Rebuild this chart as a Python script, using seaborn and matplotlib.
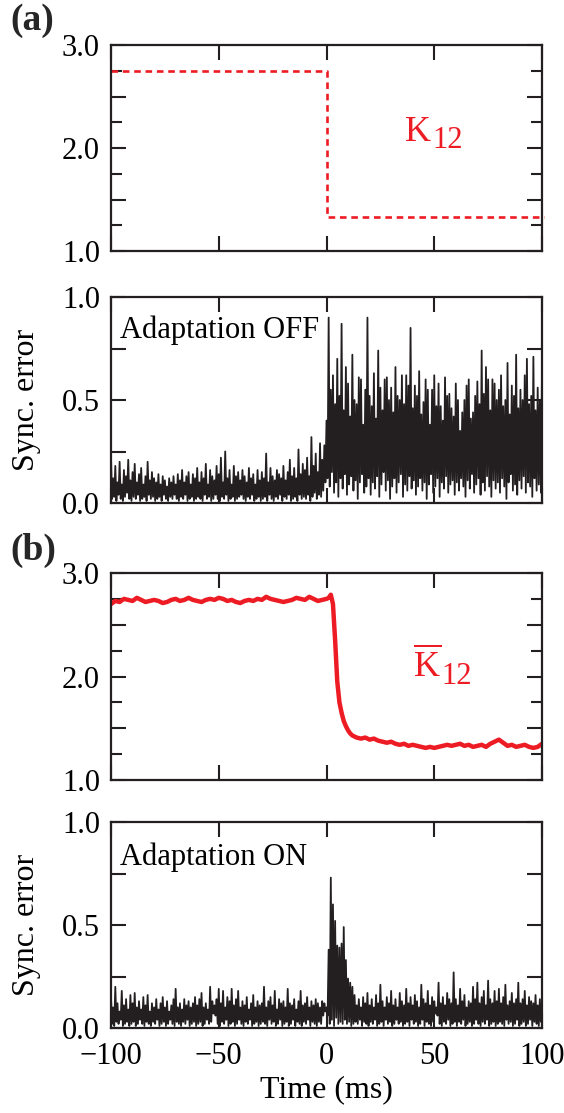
import numpy as np
import pandas as pd
import matplotlib
matplotlib.use("Agg")
import matplotlib.pyplot as plt
from matplotlib.ticker import MultipleLocator, FuncFormatter
import seaborn as sns

# ---------------- data ----------------
# (a) applied coupling strength K12 (step change at t = 0)
k_step_time = [-100, 0, 0, 101]
k_step_value = [2.75, 2.75, 1.33, 1.33]

# sync error: local maxima sampled at integer ms, local minima half a ms later
peak_time = list(range(-100, 101))
trough_time = [t + 0.5 for t in range(-100, 100)]

# (a) sync error, adaptation OFF
off_peaks = [
    0.22, 0.12, 0.18, 0.10, 0.20, 0.09, 0.16, 0.13, 0.21, 0.11,
    0.15, 0.19, 0.10, 0.14, 0.17, 0.09, 0.13, 0.20, 0.11, 0.15,
    0.12, 0.10, 0.14, 0.09, 0.13, 0.11, 0.08, 0.12, 0.10, 0.13,
    0.09, 0.14, 0.11, 0.16, 0.10, 0.13, 0.15, 0.09, 0.14, 0.12,
    0.17, 0.10, 0.15, 0.12, 0.19, 0.09, 0.16, 0.13, 0.11, 0.18,
    0.14, 0.22, 0.10, 0.25, 0.12, 0.16, 0.09, 0.18, 0.13, 0.15,
    0.11, 0.16, 0.13, 0.10, 0.17, 0.12, 0.14, 0.09, 0.16, 0.11,
    0.15, 0.12, 0.24, 0.10, 0.17, 0.13, 0.11, 0.16, 0.14, 0.12,
    0.18, 0.11, 0.15, 0.21, 0.13, 0.17, 0.12, 0.26, 0.14, 0.19,
    0.16, 0.22, 0.13, 0.32, 0.18, 0.24, 0.15, 0.29, 0.21, 0.28,
    0.40, 0.90, 0.55, 0.62, 0.48, 0.70, 0.52, 0.87, 0.45, 0.66,
    0.58, 0.42, 0.72, 0.50, 0.48, 0.61, 0.60, 0.38, 0.55, 0.90,
    0.52, 0.47, 0.63, 0.41, 0.74, 0.56, 0.45, 0.60, 0.61, 0.50,
    0.56, 0.44, 0.66, 0.52, 0.50, 0.62, 0.48, 0.62, 0.57, 0.85,
    0.46, 0.57, 0.52, 0.64, 0.43, 0.49, 0.60, 0.55, 0.38, 0.55,
    0.62, 0.47, 0.58, 0.47, 0.40, 0.61, 0.52, 0.53, 0.46, 0.42,
    0.58, 0.50, 0.35, 0.44, 0.50, 0.57, 0.60, 0.41, 0.44, 0.52,
    0.59, 0.48, 0.74, 0.53, 0.66, 0.60, 0.45, 0.60, 0.58, 0.50,
    0.55, 0.62, 0.47, 0.50, 0.68, 0.43, 0.57, 0.52, 0.72, 0.46,
    0.55, 0.50, 0.62, 0.70, 0.48, 0.52, 0.71, 0.45, 0.56, 0.50,
    0.64,
]
off_troughs = [
    0.02, 0.03, 0.01, 0.04, 0.02, 0.01, 0.03, 0.05, 0.02, 0.01,
    0.03, 0.02, 0.04, 0.01, 0.02, 0.03, 0.01, 0.04, 0.02, 0.03,
    0.01, 0.02, 0.03, 0.01, 0.04, 0.02, 0.01, 0.03, 0.02, 0.04,
    0.02, 0.01, 0.03, 0.02, 0.04, 0.01, 0.02, 0.03, 0.01, 0.02,
    0.03, 0.02, 0.01, 0.04, 0.02, 0.03, 0.01, 0.02, 0.04, 0.02,
    0.01, 0.03, 0.02, 0.04, 0.01, 0.02, 0.03, 0.01, 0.02, 0.03,
    0.04, 0.02, 0.01, 0.03, 0.02, 0.04, 0.01, 0.02, 0.03, 0.01,
    0.02, 0.03, 0.01, 0.04, 0.02, 0.01, 0.03, 0.02, 0.04, 0.01,
    0.03, 0.02, 0.04, 0.01, 0.02, 0.03, 0.01, 0.04, 0.02, 0.03,
    0.02, 0.04, 0.01, 0.03, 0.05, 0.02, 0.04, 0.03, 0.06, 0.10,
    0.12, 0.08, 0.15, 0.05, 0.10, 0.03, 0.12, 0.07, 0.14, 0.04,
    0.09, 0.13, 0.06, 0.11, 0.02, 0.10, 0.14, 0.05, 0.08, 0.12,
    0.04, 0.10, 0.07, 0.13, 0.03, 0.09, 0.15, 0.06, 0.11, 0.02,
    0.08, 0.12, 0.05, 0.10, 0.14, 0.03, 0.09, 0.06, 0.13, 0.07,
    0.11, 0.04, 0.08, 0.12, 0.06, 0.10, 0.02, 0.09, 0.14, 0.05,
    0.08, 0.12, 0.03, 0.10, 0.07, 0.13, 0.05, 0.09, 0.11, 0.04,
    0.10, 0.06, 0.12, 0.08, 0.03, 0.11, 0.07, 0.14, 0.05, 0.09,
    0.12, 0.04, 0.10, 0.06, 0.13, 0.08, 0.03, 0.11, 0.07, 0.10,
    0.05, 0.12, 0.08, 0.02, 0.10, 0.14, 0.06, 0.09, 0.04, 0.11,
    0.07, 0.13, 0.05, 0.10, 0.08, 0.03, 0.12, 0.06, 0.09, 0.05,
]

# (b) adaptive coupling strength K12-bar
kbar_time = ([-100 + 2 * i for i in range(50)]
             + [0, 1, 2, 3, 4, 5, 6, 7, 8, 9, 10, 11, 12]
             + [14 + 2 * i for i in range(44)])
kbar_value = [
    2.70, 2.73, 2.72, 2.75, 2.74, 2.73, 2.76, 2.74, 2.72, 2.73,
    2.74, 2.73, 2.71, 2.72, 2.74, 2.75, 2.73, 2.74, 2.76, 2.74,
    2.73, 2.72, 2.74, 2.75, 2.74, 2.76, 2.75, 2.73, 2.74, 2.72,
    2.71, 2.73, 2.74, 2.73, 2.75, 2.74, 2.77, 2.75, 2.74, 2.73,
    2.72, 2.73, 2.74, 2.76, 2.75, 2.74, 2.77, 2.75, 2.73, 2.74,
    2.75, 2.76, 2.79, 2.70, 2.35, 1.95, 1.75, 1.65, 1.57, 1.52, 1.48, 1.45, 1.43,
    1.41, 1.40, 1.41, 1.39, 1.40, 1.38, 1.37, 1.36, 1.37, 1.35,
    1.34, 1.35, 1.33, 1.34, 1.33, 1.32, 1.31, 1.32, 1.31, 1.32,
    1.33, 1.34, 1.33, 1.34, 1.35, 1.33, 1.34, 1.32, 1.33, 1.34,
    1.32, 1.35, 1.37, 1.39, 1.36, 1.33, 1.34, 1.32, 1.33, 1.34,
    1.32, 1.31, 1.32, 1.35,
]

# (b) sync error, adaptation ON
on_peaks = [
    0.15, 0.10, 0.20, 0.12, 0.08, 0.18, 0.11, 0.14, 0.09, 0.16,
    0.12, 0.17, 0.10, 0.13, 0.09, 0.15, 0.11, 0.16, 0.08, 0.12,
    0.10, 0.14, 0.09, 0.12, 0.15, 0.10, 0.13, 0.08, 0.11, 0.14,
    0.19, 0.10, 0.12, 0.09, 0.14, 0.11, 0.13, 0.10, 0.12, 0.15,
    0.11, 0.14, 0.17, 0.10, 0.12, 0.09, 0.20, 0.13, 0.11, 0.14,
    0.19, 0.12, 0.18, 0.10, 0.15, 0.13, 0.19, 0.11, 0.14, 0.18,
    0.10, 0.13, 0.11, 0.15, 0.09, 0.12, 0.16, 0.10, 0.13, 0.11,
    0.12, 0.20, 0.10, 0.13, 0.15, 0.11, 0.18, 0.09, 0.14, 0.12,
    0.13, 0.10, 0.19, 0.12, 0.11, 0.14, 0.09, 0.13, 0.18, 0.11,
    0.12, 0.15, 0.10, 0.13, 0.11, 0.14, 0.12, 0.10, 0.13, 0.12,
    0.10, 0.38, 0.73, 0.60, 0.52, 0.40, 0.39, 0.41, 0.49, 0.33,
    0.24, 0.22, 0.20, 0.16, 0.11, 0.14, 0.10, 0.15, 0.12, 0.17,
    0.11, 0.14, 0.10, 0.16, 0.12, 0.21, 0.13, 0.10, 0.15, 0.12,
    0.18, 0.11, 0.14, 0.10, 0.17, 0.13, 0.11, 0.19, 0.12, 0.15,
    0.11, 0.16, 0.13, 0.10, 0.21, 0.14, 0.12, 0.18, 0.11, 0.15,
    0.13, 0.10, 0.22, 0.12, 0.15, 0.11, 0.17, 0.14, 0.12, 0.27,
    0.14, 0.11, 0.19, 0.13, 0.16, 0.10, 0.13, 0.12, 0.20, 0.14,
    0.22, 0.12, 0.15, 0.18, 0.11, 0.23, 0.14, 0.12, 0.18, 0.13,
    0.19, 0.12, 0.15, 0.21, 0.11, 0.13, 0.17, 0.12, 0.14, 0.22,
    0.12, 0.14, 0.18, 0.11, 0.15, 0.13, 0.12, 0.16, 0.11, 0.14,
    0.10,
]
on_troughs = [
    0.02, 0.01, 0.03, 0.02, 0.04, 0.01, 0.02, 0.03, 0.01, 0.02,
    0.03, 0.01, 0.02, 0.04, 0.02, 0.01, 0.03, 0.02, 0.01, 0.03,
    0.02, 0.04, 0.01, 0.02, 0.03, 0.01, 0.02, 0.04, 0.02, 0.01,
    0.03, 0.02, 0.01, 0.03, 0.02, 0.04, 0.01, 0.02, 0.03, 0.01,
    0.02, 0.03, 0.01, 0.02, 0.04, 0.02, 0.03, 0.07, 0.06, 0.02,
    0.01, 0.03, 0.02, 0.04, 0.01, 0.02, 0.03, 0.01, 0.02, 0.04,
    0.02, 0.01, 0.03, 0.02, 0.04, 0.01, 0.02, 0.03, 0.01, 0.02,
    0.03, 0.02, 0.01, 0.04, 0.02, 0.03, 0.01, 0.02, 0.04, 0.01,
    0.02, 0.03, 0.01, 0.02, 0.04, 0.01, 0.03, 0.02, 0.01, 0.03,
    0.02, 0.04, 0.01, 0.03, 0.02, 0.01, 0.03, 0.02, 0.06, 0.08,
    0.06, 0.02, 0.04, 0.01, 0.05, 0.02, 0.03, 0.02, 0.04, 0.02,
    0.03, 0.01, 0.02, 0.03, 0.02, 0.04, 0.01, 0.03, 0.02, 0.01,
    0.03, 0.02, 0.04, 0.01, 0.02, 0.03, 0.01, 0.04, 0.02, 0.03,
    0.01, 0.02, 0.04, 0.02, 0.03, 0.01, 0.02, 0.03, 0.01, 0.04,
    0.02, 0.03, 0.01, 0.02, 0.04, 0.01, 0.03, 0.02, 0.01, 0.03,
    0.07, 0.06, 0.02, 0.01, 0.03, 0.02, 0.04, 0.01, 0.02, 0.03,
    0.01, 0.03, 0.02, 0.04, 0.01, 0.02, 0.03, 0.01, 0.02, 0.04,
    0.02, 0.01, 0.03, 0.02, 0.04, 0.01, 0.02, 0.03, 0.01, 0.02,
    0.03, 0.02, 0.01, 0.04, 0.02, 0.03, 0.01, 0.02, 0.04, 0.01,
    0.02, 0.03, 0.01, 0.02, 0.04, 0.01, 0.03, 0.02, 0.01, 0.03,
]

x_ticks = [-100, -50, 0, 50, 100]


def interleave(peaks, troughs):
    t, v = [], []
    for i in range(len(troughs)):
        t += [peak_time[i], trough_time[i]]
        v += [peaks[i], troughs[i]]
    t.append(peak_time[-1])
    v.append(peaks[-1])
    return pd.DataFrame({"t": t, "e": v})


# ---------------- style ----------------
sns.set_theme(style="ticks")
plt.rcParams["font.family"] = ["Liberation Serif", "DejaVu Serif"]
plt.rcParams["mathtext.fontset"] = "custom"
plt.rcParams["mathtext.rm"] = "Liberation Serif"
plt.rcParams["axes.unicode_minus"] = True

RED = "#ED1C24"
INK = "#231F20"
TICK_FS = 22
TEXT_FS = 22
LABEL_FS = 23

fig = plt.figure(figsize=(5.64, 11.13), dpi=100)
left, width = 111 / 564, 431 / 564
H = 1113.0
boxes = [(45, 251), (297, 503), (573, 780), (822, 1028)]
axes = [fig.add_axes([left, 1 - b / H, width, (b - t) / H]) for t, b in boxes]

df_step = pd.DataFrame({"t": k_step_time, "k": k_step_value})
df_off = interleave(off_peaks, off_troughs)
df_kbar = pd.DataFrame({"t": kbar_time, "k": kbar_value})
df_on = interleave(on_peaks, on_troughs)

sns.lineplot(data=df_step, x="t", y="k", ax=axes[0], color=RED, lw=1.9,
             linestyle=(0, (2.5, 1.8)), estimator=None, sort=False, clip_on=False)
sns.lineplot(data=df_off, x="t", y="e", ax=axes[1], color=INK, lw=1.3,
             estimator=None, sort=False)
sns.lineplot(data=df_kbar, x="t", y="k", ax=axes[2], color=RED, lw=3.2,
             estimator=None, sort=False)
sns.lineplot(data=df_on, x="t", y="e", ax=axes[3], color=INK, lw=1.3,
             estimator=None, sort=False)


def k_fmt(v, p):
    return f"{v:.1f}" if abs(v - round(v)) < 1e-6 else ""


def e_fmt(v, p):
    return f"{v:.1f}" if abs(v * 2 - round(v * 2)) < 1e-6 else ""


for i, ax in enumerate(axes):
    ax.set_xlim(-100, 100)
    ax.set_xticks(x_ticks)
    if i in (0, 2):
        ax.set_ylim(1.0, 3.0)
        ax.yaxis.set_major_locator(MultipleLocator(0.5))
        ax.yaxis.set_minor_locator(MultipleLocator(0.25))
        ax.yaxis.set_major_formatter(FuncFormatter(k_fmt))
    else:
        ax.set_ylim(0.0, 1.0)
        ax.yaxis.set_major_locator(MultipleLocator(0.25))
        ax.yaxis.set_major_formatter(FuncFormatter(e_fmt))
    ax.tick_params(which="major", direction="in", length=11, width=1.5,
                   top=True, right=True, labelsize=TICK_FS, colors=INK,
                   labelcolor="black")
    ax.tick_params(axis="y", which="major", pad=8)
    ax.tick_params(axis="x", which="major", pad=10)
    ax.tick_params(which="minor", direction="in", length=8, width=1.5,
                   top=False, right=True, colors=INK)
    ax.tick_params(axis="x", which="minor", bottom=False, top=False)
    for s in ax.spines.values():
        s.set_linewidth(1.6)
        s.set_color(INK)
    ax.set_xlabel("")
    ax.set_ylabel("")
    if i != 3:
        ax.tick_params(axis="x", labelbottom=False)

for ax in (axes[1], axes[3]):
    ax.set_ylabel("Sync. error", fontsize=LABEL_FS, color="black")
    ax.yaxis.set_label_coords(-0.163, 0.5)

axes[3].set_xlabel("Time (ms)", fontsize=LABEL_FS, color="black", labelpad=3)

# annotations
axes[0].text(0.682, 0.534, "K", transform=axes[0].transAxes, color=RED,
             fontsize=26, ha="left", va="baseline")
axes[0].text(0.745, 0.50, "12", transform=axes[0].transAxes, color=RED,
             fontsize=22, ha="left", va="baseline")
axes[2].text(0.70, 0.498, r"$\overline{\mathrm{K}}$", transform=axes[2].transAxes,
             color=RED, fontsize=26, ha="left", va="baseline")
axes[2].text(0.766, 0.464, "12", transform=axes[2].transAxes, color=RED,
             fontsize=22, ha="left", va="baseline")

axes[1].text(0.02, 0.80, "Adaptation OFF", transform=axes[1].transAxes,
             fontsize=TEXT_FS, ha="left", va="baseline", color="black")
axes[3].text(0.02, 0.79, "Adaptation ON", transform=axes[3].transAxes,
             fontsize=TEXT_FS, ha="left", va="baseline", color="black")

fig.text(10 / 564, 1 - 3 / H, "(a)", fontsize=27, fontweight="bold",
         ha="left", va="top")
fig.text(10 / 564, 1 - 533 / H, "(b)", fontsize=27, fontweight="bold",
         ha="left", va="top")

fig.savefig("out.png", dpi=100)
